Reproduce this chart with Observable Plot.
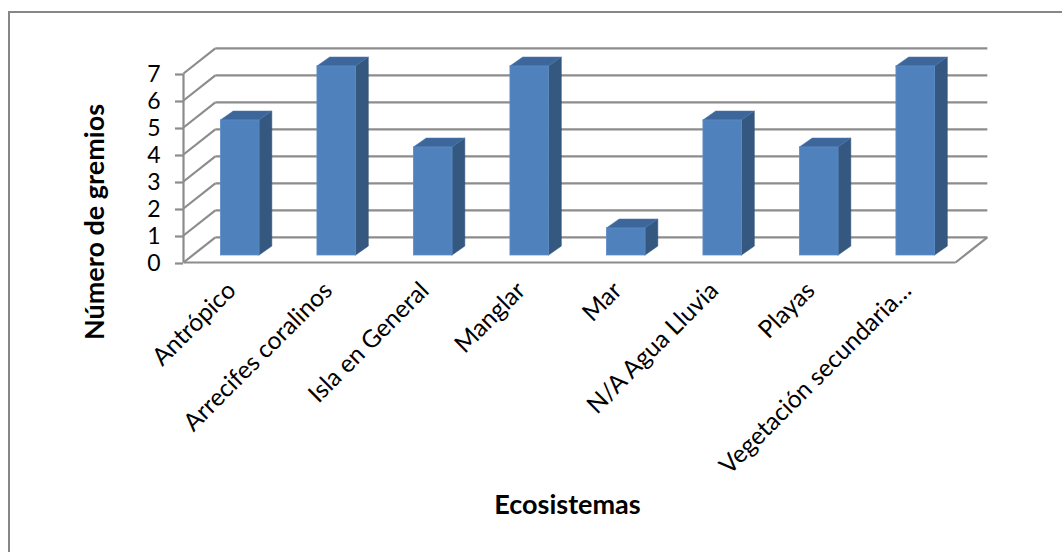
<!DOCTYPE html>
<html>
<head>
<meta charset="utf-8">
<script src="https://cdn.jsdelivr.net/npm/d3@7"></script>
<script src="https://cdn.jsdelivr.net/npm/@observablehq/plot@0.6"></script>
<style>
  html, body { margin: 0; padding: 0; background: #fff; }
  #wrap { position: relative; width: 1062px; height: 552px; overflow: hidden; }
  #chart { position: absolute; left: 0; top: 0; }
  #edge { position: absolute; left: 8px; top: 11px; width: 1100px; height: 600px;
          border-left: 2.5px solid #878787; border-top: 2.5px solid #878787; pointer-events: none; }
</style>
</head>
<body>
<div id="wrap"><div id="chart"></div><div id="edge"></div></div>
<script>
// Ecosystems and the number of guilds recorded in each
const categories = [
  "Antrópico", "Arrecifes coralinos", "Isla en General", "Manglar",
  "Mar", "N/A Agua Lluvia", "Playas", "Vegetación secundaria…"
];
const gremios = [5, 7, 4, 7, 1, 5, 4, 7];
const yTicks = [0, 1, 2, 3, 4, 5, 6, 7];
const yTitle = "Número de gremios";
const xTitle = "Ecosistemas";

// Oblique projection of the 3D box, in data units (x: category slots, y: guilds)
const wallDX = 0.33, wallDY = 0.93;   // depth of the back wall
const barDX = 0.088, barDY = 0.26;    // bars stand part-way into the box
const sideDX = 0.132, sideDY = 0.33;  // depth of each bar
const halfW = 0.2;                    // half of a bar's front width
const n = categories.length;

const bars = categories.map((c, i) => ({
  cat: c, v: gremios[i],
  x1: i + 0.5 - halfW + barDX, x2: i + 0.5 + halfW + barDX,
  y1: barDY, y2: gremios[i] + barDY
}));
const sidePts = bars.flatMap(b => [
  {cat: b.cat, x: b.x2, y1: b.y1, y2: b.y2},
  {cat: b.cat, x: b.x2 + sideDX, y1: b.y1 + sideDY, y2: b.y2 + sideDY}
]);
const topPts = bars.flatMap(b => [
  {cat: b.cat, y: b.y2, x1: b.x1, x2: b.x2},
  {cat: b.cat, y: b.y2 + sideDY, x1: b.x1 + sideDX, x2: b.x2 + sideDX}
]);

const grid = "#8c8c8c";
const gw = 2.2;

const chart = Plot.plot({
  width: 1062,
  height: 552,
  marginLeft: 183,
  marginRight: 107,
  marginTop: 73,
  marginBottom: 290,
  x: {type: "linear", domain: [0, n]},
  y: {type: "linear", domain: [0, 7]},
  style: {fontFamily: "Lato, 'Open Sans', sans-serif", color: "#000", background: "transparent", overflow: "visible"},
  marks: [
    // back wall gridlines
    Plot.link(yTicks, {x1: wallDX, x2: n + wallDX, y1: d => d + wallDY, y2: d => d + wallDY, stroke: grid, strokeWidth: gw}),
    // left wall diagonals
    Plot.link(yTicks, {x1: 0, y1: d => d, x2: wallDX, y2: d => d + wallDY, stroke: grid, strokeWidth: gw}),
    // floor front and right edges
    Plot.link([0], {x1: 0, y1: 0, x2: n, y2: 0, stroke: grid, strokeWidth: gw}),
    Plot.link([0], {x1: n, y1: 0, x2: n + wallDX, y2: wallDY, stroke: grid, strokeWidth: gw}),
    // front vertical axis line
    Plot.link([0], {x1: 0, y1: 0, x2: 0, y2: 7, stroke: grid, strokeWidth: gw}),
    // columns: side, top and front faces
    Plot.areaY(sidePts, {x: "x", y1: "y1", y2: "y2", z: "cat", fill: "#34587f", stroke: "#2e4f76", strokeWidth: 0.6}),
    Plot.areaX(topPts, {y: "y", x1: "x1", x2: "x2", z: "cat", fill: "#3d679b", stroke: "#4a76ad", strokeWidth: 0.6}),
    Plot.rect(bars, {x1: "x1", x2: "x2", y1: "y1", y2: "y2", fill: "#4f81bd", stroke: "#5b8cc6", strokeWidth: 0.8}),
    // axes
    Plot.axisY({ticks: yTicks, tickFormat: d3.format("d"), tickSize: 8, tickPadding: 15, stroke: grid, strokeWidth: gw, fontSize: 23, label: null, dy: 1}),
    Plot.axisX({ticks: categories.map((d, i) => i + 0.5), tickFormat: t => categories[Math.floor(t)],
      tickRotate: -45, tickSize: 0, tickPadding: 24, fontSize: 24.5, label: null}),
    // axis titles
    Plot.text([yTitle], {frameAnchor: "left", textAnchor: "middle", lineAnchor: "middle", dx: -88, dy: 54, rotate: -90, fontSize: 27, fontWeight: "bold", text: d => d}),
    Plot.text([xTitle], {frameAnchor: "bottom", textAnchor: "middle", lineAnchor: "middle", dx: -2, dy: 243, fontSize: 27, fontWeight: "bold", text: d => d})
  ]
});
document.getElementById("chart").appendChild(chart);
</script>
</body>
</html>
